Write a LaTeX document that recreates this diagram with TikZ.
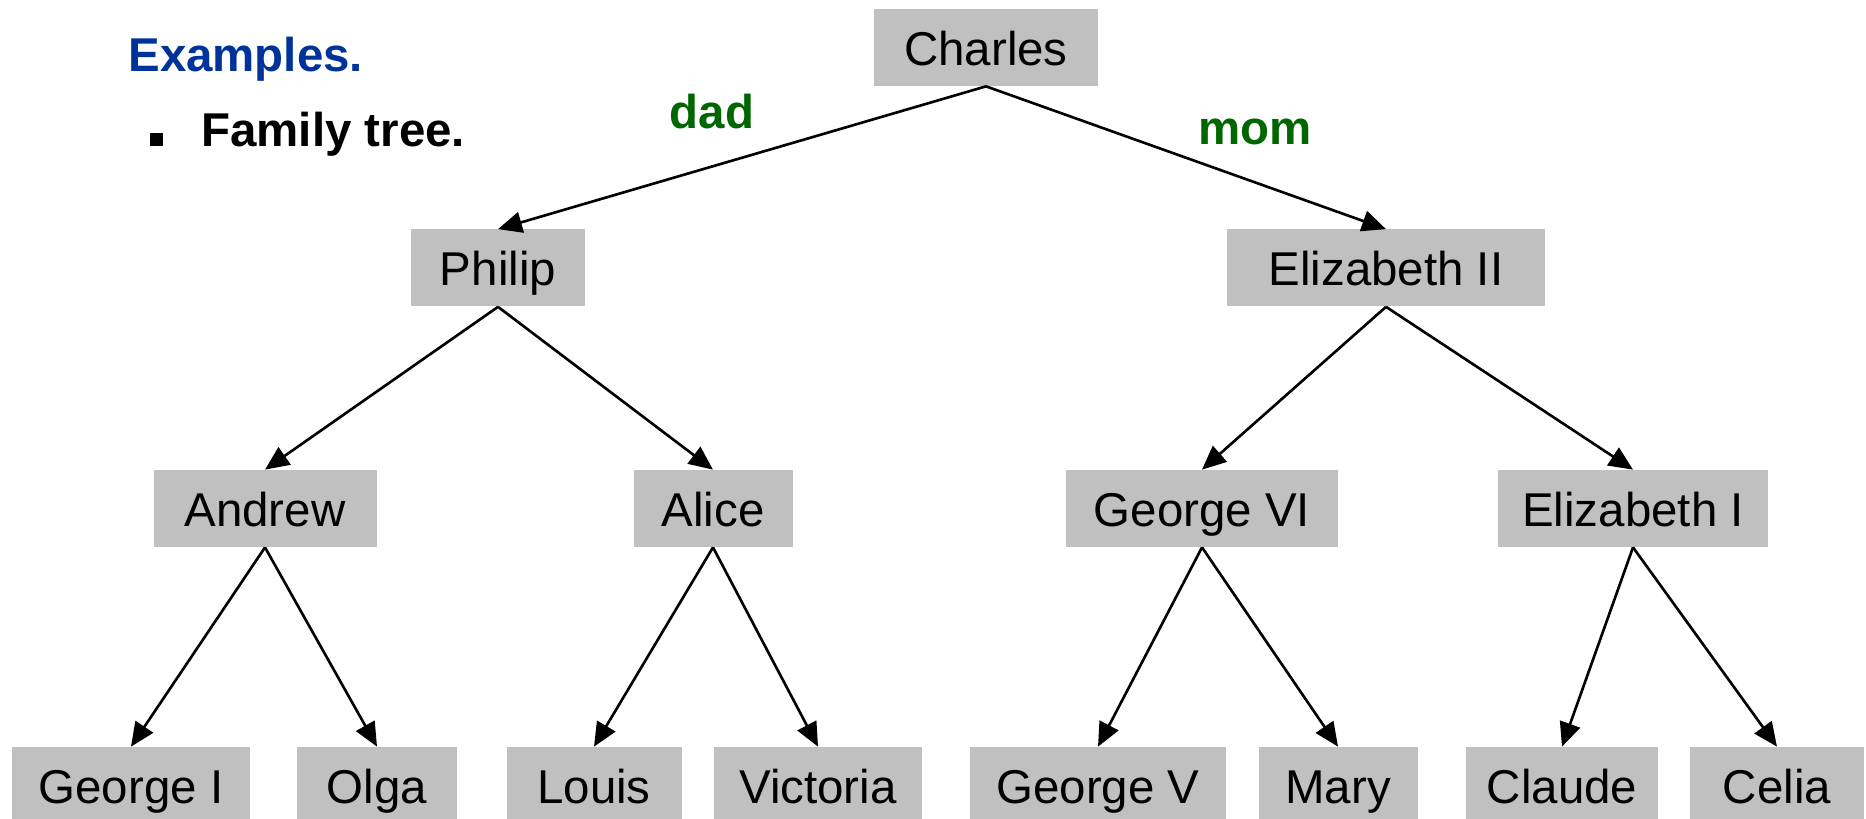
\documentclass[tikz,border=0pt]{standalone}
\usepackage{fontspec}
\setmainfont{Liberation Sans}
\usepackage{tikz}
\usetikzlibrary{positioning,arrows.meta}

\definecolor{boxgray}{RGB}{192,192,192}
\definecolor{titleblue}{RGB}{0,51,153}
\definecolor{rolegreen}{RGB}{0,102,0}

\begin{document}
\begin{tikzpicture}[
  person/.style={rectangle, fill=boxgray, minimum height=1.54cm, text height=0.72cm, text depth=0cm, font=\fontsize{27}{32}\selectfont},
  parent edge/.style={line width=1.5pt, -{Triangle[length=0.48cm,width=0.42cm]}},
  role label/.style={text=rolegreen, anchor=base, inner sep=0pt, font=\fontsize{27}{32}\selectfont\bfseries},
  slide text/.style={anchor=base west, inner sep=0pt, font=\fontsize{27}{32}\selectfont\bfseries}]

  \useasboundingbox (0,0) rectangle (37.32,-16.38);

  % heading
  \node [slide text, text=titleblue] (examples) at (2.56,-1.44) {Examples.};
  \node [slide text] (familytree) at (4.02,-2.94) {Family tree.};
  \node [fill=black, minimum size=0.26cm, inner sep=0pt] (bullet) at (3.13,-2.79) {};

  % tree
  \node [person, minimum width=4.48cm] (charles) at (19.72,-0.95) {Charles};

  \node [person, minimum width=3.48cm] (philip) at (9.96,-5.36) {Philip};
  \node [person, minimum width=6.36cm] (elizabethii) at (27.72,-5.36) {Elizabeth II};

  \node [person, minimum width=4.46cm] (andrew) at (5.30,-10.17) {Andrew};
  \node [person, minimum width=3.18cm] (alice) at (14.26,-10.17) {Alice};
  \node [person, minimum width=5.44cm] (georgevi) at (24.04,-10.17) {George VI};
  \node [person, minimum width=5.40cm] (elizabethi) at (32.66,-10.17) {Elizabeth I};

  \node [person, minimum width=4.76cm] (georgei) at (2.62,-15.71) {George I};
  \node [person, minimum width=3.20cm] (olga) at (7.54,-15.71) {Olga};
  \node [person, minimum width=3.50cm] (louis) at (11.88,-15.71) {Louis};
  \node [person, minimum width=4.16cm] (victoria) at (16.36,-15.71) {Victoria};
  \node [person, minimum width=5.12cm] (georgev) at (21.96,-15.71) {George V};
  \node [person, minimum width=3.18cm] (mary) at (26.76,-15.71) {Mary};
  \node [person, minimum width=3.84cm] (claude) at (31.24,-15.71) {Claude};
  \node [person, minimum width=3.48cm] (celia) at (35.54,-15.71) {Celia};

  \draw [parent edge] (charles.south) -- (philip.north);
  \draw [parent edge] (charles.south) -- (elizabethii.north);
  \draw [parent edge] (philip.south) -- (andrew.north);
  \draw [parent edge] (philip.south) -- (alice.north);
  \draw [parent edge] (elizabethii.south) -- (georgevi.north);
  \draw [parent edge] (elizabethii.south) -- (elizabethi.north);
  \draw [parent edge] (andrew.south) -- (georgei.north);
  \draw [parent edge] (andrew.south) -- (olga.north);
  \draw [parent edge] (alice.south) -- (louis.north);
  \draw [parent edge] (alice.south) -- (victoria.north);
  \draw [parent edge] (georgevi.south) -- (georgev.north);
  \draw [parent edge] (georgevi.south) -- (mary.north);
  \draw [parent edge] (elizabethi.south) -- (claude.north);
  \draw [parent edge] (elizabethi.south) -- (celia.north);

  \node [role label] (dad) at (14.24,-2.58) {dad};
  \node [role label] (mom) at (25.10,-2.90) {mom};
\end{tikzpicture}
\end{document}
